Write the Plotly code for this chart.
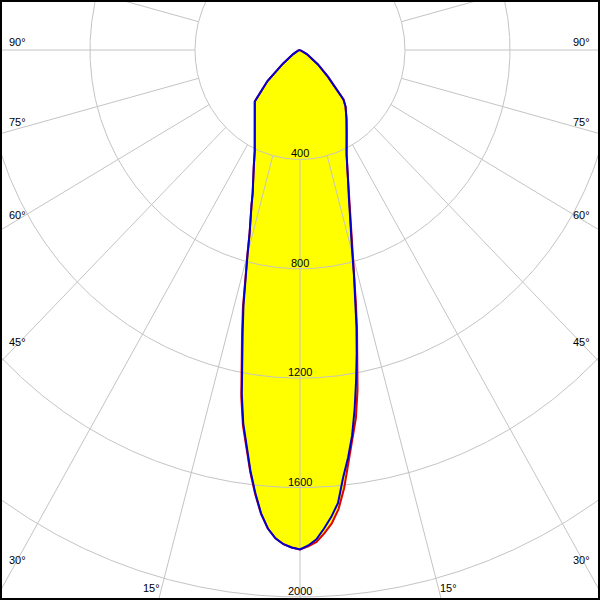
import numpy as np
import plotly.graph_objects as go

# ---- data ----
angles = [0, 1, 2, 3, 4, 5, 6, 7, 8, 9, 10, 11, 12, 13, 14, 15, 16, 17, 18, 19, 20,
          22.5, 25, 30, 35, 40, 42.5, 47.5, 52.5, 60, 75, 90]
blue_left = [1826, 1819, 1808, 1788, 1754, 1701, 1629, 1550, 1464, 1382, 1277, 1158, 1050, 957,
             862, 771, 696, 642, 598, 554, 522, 460, 408, 345, 301, 268, 255, 168, 82, 30, 8, 0]
blue_right = [1824, 1812, 1790, 1752, 1711, 1662, 1572, 1502, 1425, 1330, 1230, 1132, 1035, 938,
              850, 770, 705, 655, 610, 572, 540, 472, 420, 356, 309, 270, 245, 143, 85, 30, 8, 0]
red_left = [1826, 1819, 1808, 1788, 1754, 1703, 1633, 1555, 1470, 1390, 1288, 1170, 1062, 967,
            866, 773, 697, 642, 598, 554, 522, 460, 408, 345, 301, 268, 255, 168, 82, 30, 8, 0]
red_right = [1826, 1815, 1800, 1770, 1735, 1685, 1610, 1520, 1440, 1362, 1262, 1150, 1045, 945,
             852, 770, 705, 655, 610, 572, 540, 472, 420, 356, 309, 270, 245, 143, 85, 30, 8, 0]

ring_values = [400, 800, 1200, 1600, 2000]
ring_labels = ["400", "800", "1200", "1600", "2000"]
side_label_angles = [90, 75, 60, 45, 30]
side_label_shift = [8, 7, 5, 2, -1]
bottom_label_angles = [15]

# ---- layout geometry ----
W = H = 600
border = 2
cx_px, cy_px = 300, 50
sx, sy = 0.2625, 0.2735
x_lo = (border - cx_px) / sx
x_hi = (W - border - cx_px) / sx
y_hi = (cy_px - border) / sy
y_lo = -(H - border - cy_px) / sy


def outline(left, right):
    th = np.radians(angles)
    l = np.array(left, float)
    r = np.array(right, float)
    xl, yl = -l * np.sin(th), -l * np.cos(th)
    xr, yr = r * np.sin(th), -r * np.cos(th)
    return np.concatenate([xl[::-1], xr[1:]]), np.concatenate([yl[::-1], yr[1:]])


bx, by = outline(blue_left, blue_right)
rx, ry = outline(red_left, red_right)

# grid
gx, gy = [], []
t = np.linspace(0, 2 * np.pi, 1441)
for rv in ring_values:
    gx += list(rv * np.sin(t)) + [None]
    gy += list(rv * np.cos(t)) + [None]
for a in range(0, 360, 15):
    ar = np.radians(a)
    gx += [ring_values[0] * np.sin(ar), 5000 * np.sin(ar), None]
    gy += [-ring_values[0] * np.cos(ar), -5000 * np.cos(ar), None]

fig = go.Figure()
fig.add_trace(go.Scatter(x=rx, y=ry, mode="lines", fill="toself", fillcolor="#FFFF00",
                         line=dict(width=0, color="#FFFF00"), hoverinfo="skip"))
fig.add_trace(go.Scatter(x=bx, y=by, mode="lines", fill="toself", fillcolor="#FFFF00",
                         line=dict(width=0, color="#FFFF00"), hoverinfo="skip"))
fig.add_trace(go.Scatter(x=gx, y=gy, mode="lines", line=dict(color="#C4C4C4", width=1),
                         hoverinfo="skip"))
fig.add_trace(go.Scatter(x=rx, y=ry, mode="lines", line=dict(color="#E00000", width=2),
                         hoverinfo="skip"))
fig.add_trace(go.Scatter(x=bx, y=by, mode="lines", line=dict(color="#0000D0", width=2),
                         hoverinfo="skip"))

font = dict(family="Liberation Sans, Arial, sans-serif", size=11, color="#000000")
ann = []
for rv, lab in zip(ring_values, ring_labels):
    ann.append(dict(x=0, y=-rv, text=lab, showarrow=False, xanchor="center",
                    yanchor="middle", yshift=6, font=font))

lx_left = (18 - cx_px) / sx
for a, sh in zip(side_label_angles, side_label_shift):
    ar = np.radians(a)
    yv = -abs(lx_left) * np.cos(ar) / np.sin(ar)
    ann.append(dict(x=x_lo, y=yv, text=f"{a}°", showarrow=False, xanchor="left",
                    yanchor="middle", xshift=5, yshift=sh, font=font))
    ann.append(dict(x=x_hi, y=yv, text=f"{a}°", showarrow=False, xanchor="right",
                    yanchor="middle", xshift=-6, yshift=sh, font=font))

yb = -(588 - cy_px) / sy
for a in bottom_label_angles:
    ar = np.radians(a)
    xv = abs(yb) * np.tan(ar)
    ann.append(dict(x=-xv, y=yb, text=f"{a}°", showarrow=False, xanchor="right",
                    yanchor="middle", font=font))
    ann.append(dict(x=xv, y=yb, text=f"{a}°", showarrow=False, xanchor="left",
                    yanchor="middle", font=font))

fig.update_layout(
    width=W, height=H,
    margin=dict(l=border, r=border, t=border, b=border, pad=0),
    paper_bgcolor="black", plot_bgcolor="white",
    showlegend=False,
    xaxis=dict(range=[x_lo, x_hi], visible=False, fixedrange=True),
    yaxis=dict(range=[y_lo, y_hi], visible=False, fixedrange=True),
    annotations=ann,
)
fig.write_html("out.html", config={"displayModeBar": False},
               post_script="document.body.style.margin='0';document.body.style.padding='0';")
